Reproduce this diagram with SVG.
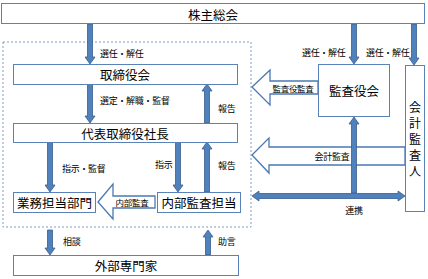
<svg xmlns="http://www.w3.org/2000/svg" width="428" height="279" viewBox="0 0 428 279">
<style>
.box{fill:#fff;stroke:#5a82b8;stroke-width:1}
.bt{font-family:"Noto Sans CJK JP","Noto Sans CJK SC",sans-serif;font-size:12.5px;fill:#000;text-anchor:middle;dominant-baseline:central}
.vt{font-family:"Noto Sans CJK JP","Noto Sans CJK SC",sans-serif;font-size:12px;fill:#000;text-anchor:middle;dominant-baseline:central}
.lb{font-family:"Noto Sans CJK JP","Noto Sans CJK SC",sans-serif;font-size:9px;fill:#000;dominant-baseline:central;letter-spacing:-0.3px}
.sm{font-size:8.5px}
.ar{fill:#4f81bd;stroke:#385d8a;stroke-width:0.8}
.ba{fill:#fff;stroke:#4a78b5;stroke-width:1.3}
.dash{fill:none;stroke:#7f9cc4;stroke-width:1;stroke-dasharray:2,2}
</style>
<rect x="0" y="0" width="428" height="279" fill="#fff"/>
<rect class="dash" x="3" y="42" width="248" height="185"/>
<g id="connectors">
<polygon class="ar" points="87.5,24 92.5,24 92.5,57 95,57 90,64 85,57 87.5,57"/>
<polygon class="ar" points="87.5,84 92.5,84 92.5,116 95,116 90,123 85,116 87.5,116"/>
<polygon class="ar" points="204.5,123 209.5,123 209.5,91 212,91 207,84 202,91 204.5,91"/>
<polygon class="ar" points="351.5,24 356.5,24 356.5,57 359,57 354,64 349,57 351.5,57"/>
<polygon class="ar" points="411.5,24 416.5,24 416.5,58 419,58 414,65 409,58 411.5,58"/>
<polygon class="ar" points="47.5,142 52.5,142 52.5,185 55,185 50,192 45,185 47.5,185"/>
<polygon class="ar" points="175.5,142 180.5,142 180.5,185 183,185 178,192 173,185 175.5,185"/>
<polygon class="ar" points="204.5,192 209.5,192 209.5,149 212,149 207,142 202,149 204.5,149"/>
<polygon class="ar" points="47.5,230 52.5,230 52.5,248 55,248 50,255 45,248 47.5,248"/>
<polygon class="ar" points="205.5,255 210.5,255 210.5,237 213,237 208,230 203,237 205.5,237"/>
<polygon class="ba" points="252,87 270,70 270,81 318,81 318,94 270,94 270,105"/>
<polygon class="ba" points="252,155 269,138 269,147 405,147 405,165 269,165 269,173"/>
<polygon class="ba" points="98,202 113,184 113,196 155,196 155,208 113,208 113,219"/>
<polygon class="ar" points="351.5,193 356.5,193 356.5,124 359,124 354,117 349,124 351.5,124"/>
<polygon class="ar" points="252,196 259,191 259,193.5 398,193.5 398,191 405,196 398,201 398,198.5 259,198.5 259,201"/>
</g>
<g id="labels">
<text class="lb" x="100" y="53">選任・解任</text>
<text class="lb" x="100" y="100">選定・解職・監督</text>
<text class="lb" x="218" y="108">報告</text>
<text class="lb" x="302" y="52">選任・解任</text>
<text class="lb" x="366" y="52">選任・解任</text>
<text class="lb sm" x="293" y="87.5" text-anchor="middle">監査役監査</text>
<text class="lb" x="332" y="156" text-anchor="middle">会計監査</text>
<text class="lb" x="354" y="210" text-anchor="middle">連携</text>
<text class="lb" x="62" y="168">指示・監督</text>
<text class="lb" x="155" y="164">指示</text>
<text class="lb" x="218" y="165">報告</text>
<text class="lb sm" x="132" y="202" text-anchor="middle">内部監査</text>
<text class="lb" x="63" y="241">相談</text>
<text class="lb" x="218" y="241">助言</text>
</g>
<g id="n_kabunushi"><rect class="box" x="1.5" y="3.5" width="423" height="20"/><text class="bt" x="213" y="14">株主総会</text></g>
<g id="n_torishimari"><rect class="box" x="13.5" y="64.5" width="224" height="20"/><text class="bt" x="125" y="74.5">取締役会</text></g>
<g id="n_daihyo"><rect class="box" x="13.5" y="123.5" width="224" height="19"/><text class="bt" x="125" y="133">代表取締役社長</text></g>
<g id="n_kansayaku"><rect class="box" x="318.5" y="64.5" width="71" height="52"/><text class="bt" x="354" y="90.5">監査役会</text></g>
<g id="n_kaikei"><rect class="box" x="405.5" y="65.5" width="19" height="146"/>
<text class="vt" x="415" y="106">会</text><text class="vt" x="415" y="122">計</text><text class="vt" x="415" y="138">監</text><text class="vt" x="415" y="154">査</text><text class="vt" x="415" y="170">人</text></g>
<g id="n_gyomu"><rect class="box" x="13.5" y="192.5" width="82" height="20"/><text class="bt" x="54.5" y="202.5">業務担当部門</text></g>
<g id="n_naibu"><rect class="box" x="157.5" y="192.5" width="83" height="20"/><text class="bt" x="199" y="202.5">内部監査担当</text></g>
<g id="n_gaibu"><rect class="box" x="13.5" y="255.5" width="225" height="20"/><text class="bt" x="126" y="265.5">外部専門家</text></g>
</svg>
